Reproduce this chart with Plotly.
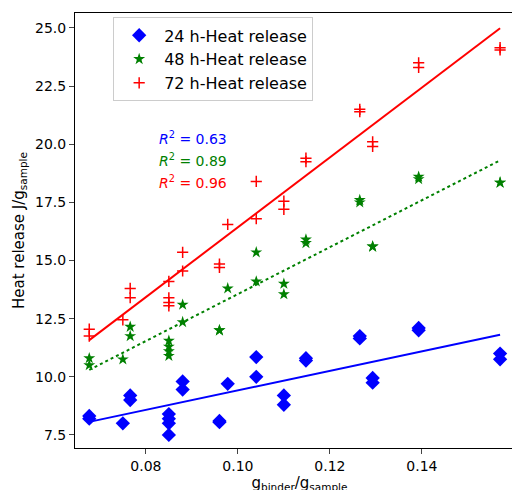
import numpy as np
import plotly.graph_objects as go

x_vals = [0.0677, 0.0677, 0.075, 0.0766, 0.0766, 0.085, 0.085, 0.085, 0.085, 0.088, 0.088,
          0.096, 0.096, 0.0978, 0.104, 0.104, 0.110, 0.110, 0.1148, 0.1148, 0.1265, 0.1265,
          0.1293, 0.1293, 0.1393, 0.1393, 0.157, 0.157]
heat_24h = [8.32, 8.2, 8.0, 9.2, 9.0, 8.4, 8.2, 8.0, 7.5, 9.8, 9.45,
            8.1, 8.05, 9.7, 10.85, 10.0, 9.2, 8.8, 10.8, 10.7, 11.75, 11.65,
            9.95, 9.75, 12.1, 12.0, 11.0, 10.75]
heat_48h = [10.8, 10.5, 10.75, 12.15, 11.75, 11.55, 11.3, 11.1, 10.9, 13.1, 12.35,
            12.0, 12.0, 13.8, 15.35, 14.1, 14.0, 13.55, 15.9, 15.75, 17.6, 17.5,
            15.6, 15.6, 18.6, 18.5, 18.35, 18.35]
heat_72h = [12.05, 11.75, 12.45, 13.8, 13.4, 14.1, 13.4, 13.2, 13.05, 15.35, 14.55,
            14.85, 14.7, 16.55, 18.4, 16.8, 17.55, 17.2, 19.4, 19.25, 21.5, 21.4,
            20.1, 19.9, 23.5, 23.3, 24.15, 24.05]
r2_labels = ["R² = 0.63", "R² = 0.89", "R² = 0.96"]

series = [
    ("24 h-Heat release", heat_24h, "blue", dict(symbol="diamond", size=11), "solid"),
    ("48 h-Heat release", heat_48h, "green", dict(symbol="star", size=9), "dot"),
    ("72 h-Heat release", heat_72h, "red", dict(symbol="cross-thin", size=8, line=dict(width=1.5, color="red")), "solid"),
]

fig = go.Figure()
xs = np.array(x_vals)
x_line = np.array([min(x_vals), max(x_vals)])
for name, ys, color, marker, dash in series:
    fig.add_trace(go.Scatter(x=x_vals, y=ys, mode="markers", name=name,
                             marker=dict(color=color, **marker)))
for name, ys, color, marker, dash in series:
    k, b = np.polyfit(xs, np.array(ys), 1)
    fig.add_trace(go.Scatter(x=x_line, y=k * x_line + b, mode="lines", showlegend=False,
                             line=dict(color=color, width=2, dash=dash)))

for i, (txt, c) in enumerate(zip(r2_labels, ["blue", "green", "red"])):
    fig.add_annotation(x=0.0825, y=20.27 - i * 0.95, text="<i>R</i><sup>2</sup>" + txt[2:],
                       showarrow=False, xanchor="left", font=dict(color=c, size=14))

axis = dict(showline=True, linecolor="black", linewidth=1, mirror=True, ticks="outside",
            showgrid=False, zeroline=False, tickfont=dict(size=14, color="black"))
fig.update_layout(
    width=520, height=490, template="none", plot_bgcolor="white", paper_bgcolor="white",
    font=dict(family="DejaVu Sans", color="black"),
    margin=dict(l=67, r=4, t=5, b=50),
    xaxis=dict(range=[0.0646, 0.1622], tickvals=[0.08, 0.10, 0.12, 0.14, 0.16],
               ticktext=["0.08", "0.10", "0.12", "0.14", "0.16"],
               title=dict(text="g<sub>binder</sub>/g<sub>sample</sub>", font=dict(size=15), standoff=4), **axis),
    yaxis=dict(range=[6.94, 25.64], tickvals=[7.5, 10, 12.5, 15, 17.5, 20, 22.5, 25],
               tickformat=".1f",
               title=dict(text="Heat release J/g<sub>sample</sub>", font=dict(size=15), standoff=6), **axis),
    legend=dict(x=0.085, y=0.99, xanchor="left", yanchor="top", bordercolor="#cccccc",
                borderwidth=1, bgcolor="white", font=dict(size=16), itemwidth=40),
)
fig.write_html("out.html")
